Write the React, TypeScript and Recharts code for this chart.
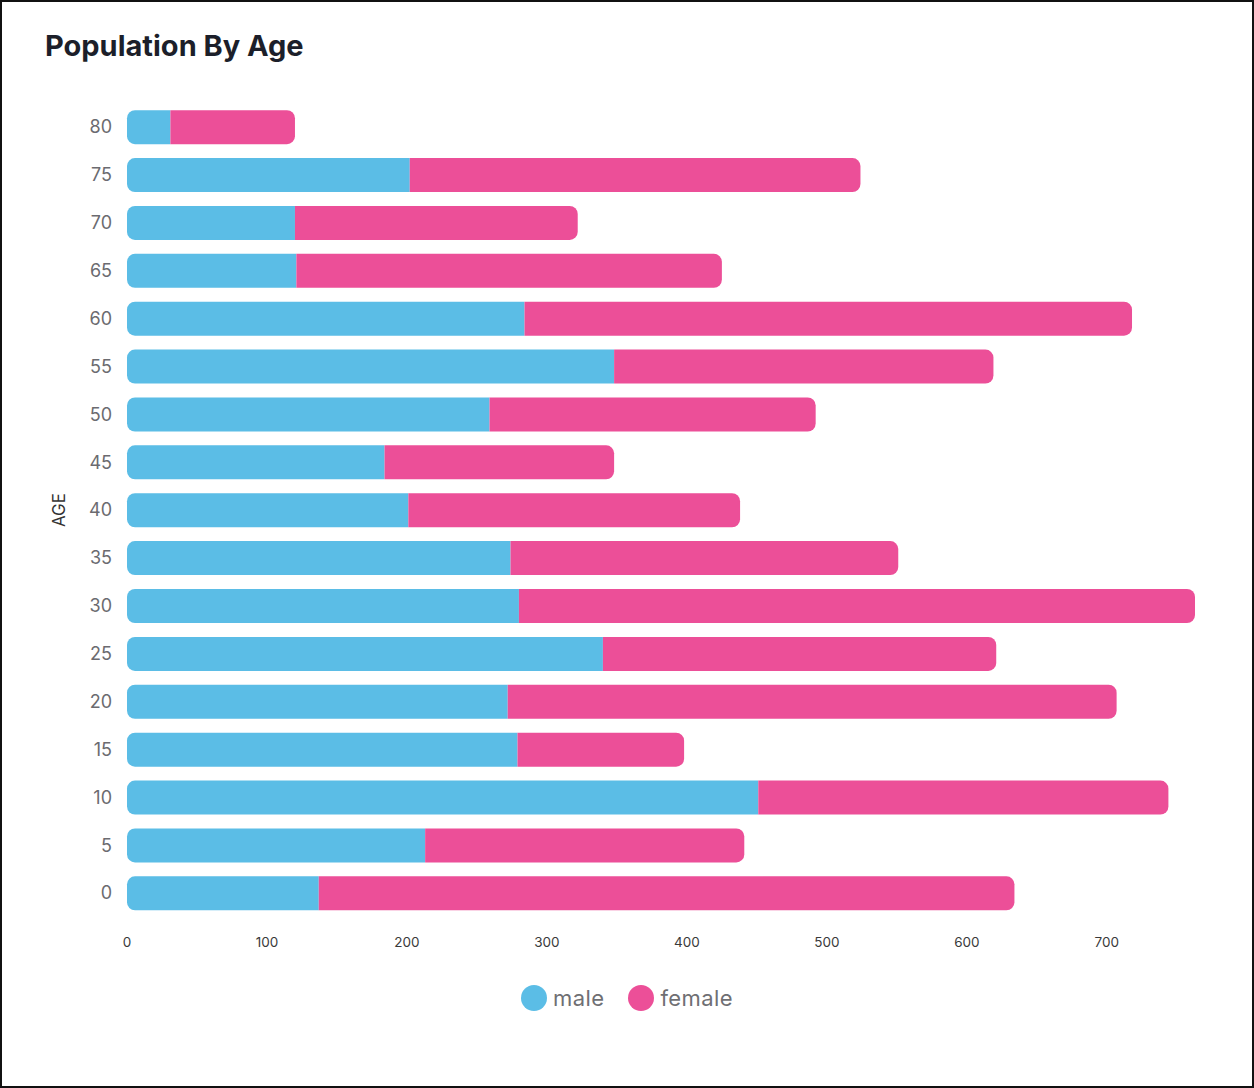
import React from 'react';
import { BarChart, Bar, XAxis, YAxis, Legend } from 'recharts';

const ages = ['0', '5', '10', '15', '20', '25', '30', '35', '40', '45', '50', '55', '60', '65', '70', '75', '80'];
const male = [137, 213, 451, 279, 272, 340, 280, 274, 201, 184, 259, 348, 284, 121, 120, 202, 31];
const female = [497, 228, 293, 119, 435, 281, 483, 277, 237, 164, 233, 271, 434, 304, 202, 322, 89];
const xTicks = [0, 100, 200, 300, 400, 500, 600, 700];
const legendOrder = ['male', 'female'];

const MALE_COLOR = '#5BBDE6';
const FEMALE_COLOR = '#EC4F98';
const FONT = 'Inter, "Noto Sans", sans-serif';

const data = ages.map((age, i) => ({ age, male: male[i], female: female[i] }));

const AgeLabel = ({ viewBox }: any) => {
    const x = viewBox.x + 12;
    const y = viewBox.y + viewBox.height / 2;
    return (
        <text
            x={x}
            y={y}
            transform={`rotate(-90, ${x}, ${y})`}
            textAnchor="middle"
            dominantBaseline="central"
            fill="#333"
            fontSize={17}
            fontFamily={FONT}
        >
            AGE
        </text>
    );
};

const LegendContent = ({ payload }: any) => {
    const items = [...(payload || [])].sort(
        (a: any, b: any) => legendOrder.indexOf(a.value) - legendOrder.indexOf(b.value)
    );
    return (
        <div
            style={{
                display: 'flex',
                justifyContent: 'center',
                alignItems: 'center',
                height: 36,
                fontFamily: FONT,
            }}
        >
            {items.map((item: any) => (
                <div key={item.value} style={{ display: 'flex', alignItems: 'center', margin: '0 12px' }}>
                    <span
                        style={{
                            width: 26,
                            height: 26,
                            borderRadius: '50%',
                            background: item.color,
                            display: 'inline-block',
                            marginRight: 6,
                        }}
                    />
                    <span style={{ fontSize: 22, color: '#6f6f73', letterSpacing: 0.4 }}>{item.value}</span>
                </div>
            ))}
        </div>
    );
};

export default function App() {
    return (
        <div
            style={{
                position: 'absolute',
                top: 0,
                left: 0,
                width: 1254,
                height: 1088,
                background: '#fff',
                fontFamily: FONT,
            }}
        >
            <div
                style={{
                    position: 'absolute',
                    left: 45,
                    top: 28,
                    fontSize: 29,
                    fontWeight: 700,
                    color: '#1c1f2a',
                    letterSpacing: 0,
                    lineHeight: '36px',
                }}
            >
                Population By Age
            </div>
            <div style={{ position: 'absolute', top: 0, left: 0 }}>
                <BarChart
                    width={1254}
                    height={1088}
                    data={data}
                    layout="vertical"
                    barCategoryGap="15%"
                    margin={{ top: 103, right: 59, left: 47, bottom: 105 }}
                >
                    <XAxis
                        type="number"
                        domain={[0, 'dataMax']}
                        ticks={xTicks}
                        axisLine={false}
                        tickLine={false}
                        tickMargin={14}
                        tick={{ fill: '#3a3a3a', fontSize: 13.5, fontFamily: FONT }}
                    />
                    <YAxis
                        type="category"
                        dataKey="age"
                        reversed
                        width={80}
                        axisLine={false}
                        tickLine={false}
                        tickMargin={9}
                        tick={{ fill: '#6b6b70', fontSize: 18, fontFamily: FONT }}
                        label={<AgeLabel />}
                    />
                    <Legend
                        verticalAlign="bottom"
                        content={<LegendContent />}
                        wrapperStyle={{ left: 0, width: 1254, bottom: 72 }}
                    />
                    <Bar
                        dataKey="male"
                        name="male"
                        stackId="pop"
                        fill={MALE_COLOR}
                        radius={[8, 0, 0, 8]}
                        isAnimationActive={false}
                    />
                    <Bar
                        dataKey="female"
                        name="female"
                        stackId="pop"
                        fill={FEMALE_COLOR}
                        radius={[0, 8, 8, 0]}
                        isAnimationActive={false}
                    />
                </BarChart>
            </div>
            <div
                style={{
                    position: 'absolute',
                    inset: 0,
                    border: '2px solid #111',
                    pointerEvents: 'none',
                }}
            />
        </div>
    );
}
